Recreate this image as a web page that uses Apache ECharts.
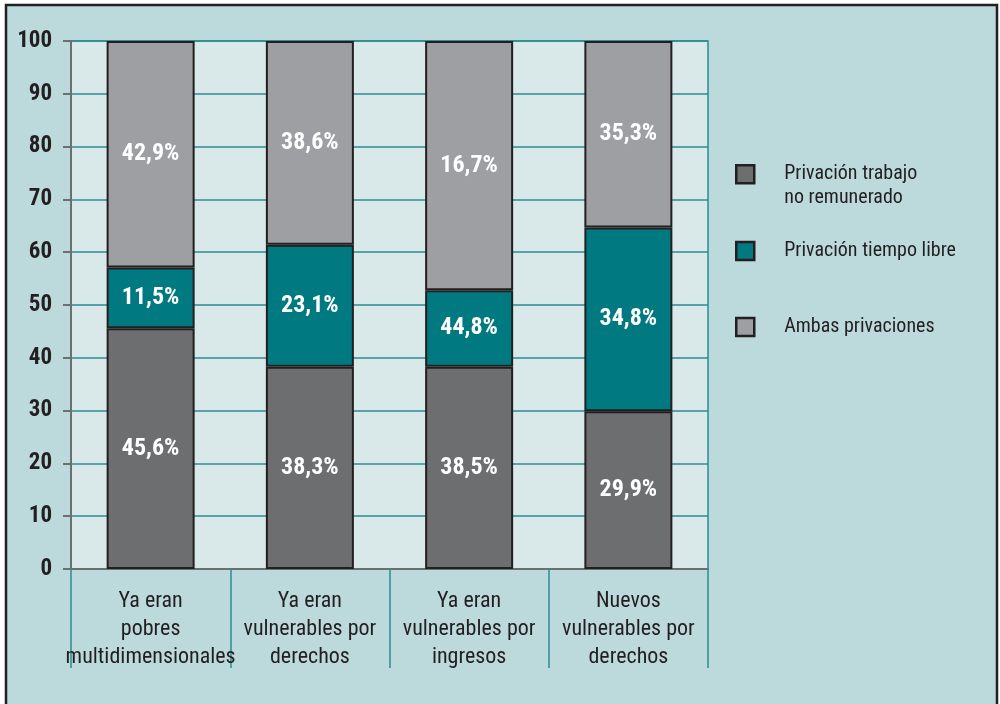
<!DOCTYPE html>
<html>
<head>
<meta charset="utf-8">
<script src="https://cdn.jsdelivr.net/npm/echarts@6/dist/echarts.min.js"></script>
<style>
  html, body { margin: 0; padding: 0; background: #fff; }
  #main { width: 1000px; height: 704px; }
</style>
</head>
<body>
<div id="main"></div>
<script>
// categorias del eje x
var categorias = [
  "Ya eran\npobres\nmultidimensionales",
  "Ya eran\nvulnerables por\nderechos",
  "Ya eran\nvulnerables por\ningresos",
  "Nuevos\nvulnerables por\nderechos"
];

var nombres = ["Privación trabajo\nno remunerado", "Privación tiempo libre", "Ambas privaciones"];

// alturas de los segmentos tal como aparecen dibujados
var trabajo = [45.6, 38.3, 38.3, 29.9];
var tiempo = [11.5, 23.1, 14.5, 34.8];
var ambas = [42.9, 38.6, 47.2, 35.3];

// textos impresos en cada segmento
var etqTrabajo = ["45,6%", "38,3%", "38,5%", "29,9%"];
var etqTiempo = ["11,5%", "23,1%", "44,8%", "34,8%"];
var etqAmbas = ["42,9%", "38,6%", "16,7%", "35,3%"];

var ticksY = [0, 10, 20, 30, 40, 50, 60, 70, 80, 90, 100];

var fuente = "'Liberation Sans Narrow', 'Roboto Condensed', 'Arial Narrow', sans-serif";
var colores = ["#6d6e70", "#007a80", "#9d9fa2"];

var chartDom = document.getElementById("main");
var myChart = echarts.init(chartDom);

function serie(nombre, datos, etiquetas, color) {
  return {
    name: nombre,
    type: "bar",
    stack: "total",
    barWidth: 88,
    data: datos,
    itemStyle: {
      color: color,
      borderColor: "#231f20",
      borderWidth: 2
    },
    label: {
      show: true,
      position: "inside",
      color: "#ffffff",
      fontFamily: fuente,
      fontWeight: "bold",
      fontSize: 24,
      formatter: function (p) {
        return etiquetas[p.dataIndex];
      }
    }
  };
}

// cuadrado arriba para que quede alineado con la primera linea del texto
var iconoAlto = "path://M0,0 M0,3L18,3L18,21L0,21Z M0,48";

function leyenda(nombre, top, icono, alto) {
  return {
    left: 735,
    top: top,
    padding: 0,
    orient: "vertical",
    icon: icono,
    itemWidth: 18,
    itemHeight: alto,
    selectedMode: false,
    data: [nombre],
    textStyle: {
      fontFamily: fuente,
      fontSize: 20,
      color: "#231f20",
      lineHeight: 24,
      padding: [0, 0, 0, 25]
    },
    itemStyle: { borderColor: "#231f20", borderWidth: 2.5 }
  };
}

var option = {
  backgroundColor: "#ffffff",
  animation: false,
  graphic: [
    {
      type: "rect",
      z: -10,
      shape: { x: 6, y: 5, width: 991, height: 720 },
      style: { fill: "#bcd9dc", stroke: "#231f20", lineWidth: 2.5 }
    }
  ],
  legend: [
    leyenda(nombres[0], 161, iconoAlto, 48),
    leyenda(nombres[1], 239, "rect", 18),
    leyenda(nombres[2], 315, "rect", 18)
  ],
  grid: {
    left: 71,
    right: 292,
    top: 41,
    bottom: 135,
    show: true,
    backgroundColor: "#d9e9ea",
    borderColor: "#2a8d92",
    borderWidth: 1.5
  },
  xAxis: {
    type: "category",
    data: categorias,
    axisLine: { lineStyle: { color: "#6d6e70", width: 2 } },
    axisTick: {
      show: true,
      interval: 0,
      alignWithLabel: false,
      length: 99,
      lineStyle: { color: "#2a8d92", width: 1.5 }
    },
    axisLabel: {
      interval: 0,
      margin: 18,
      fontFamily: fuente,
      fontSize: 22,
      lineHeight: 28,
      color: "#231f20"
    }
  },
  yAxis: {
    type: "value",
    min: 0,
    max: 100,
    interval: 10,
    axisLine: { show: true, lineStyle: { color: "#6d6e70", width: 2 } },
    axisTick: { show: true, length: 8, lineStyle: { color: "#6d6e70", width: 2 } },
    splitLine: { show: true, lineStyle: { color: "#2a8d92", width: 1.5 } },
    axisLabel: {
      margin: 19,
      fontFamily: fuente,
      fontWeight: "bold",
      fontSize: 23,
      color: "#231f20",
      formatter: function (v) {
        return ticksY.indexOf(v) >= 0 ? String(v) : "";
      }
    }
  },
  series: [
    serie(nombres[0], trabajo, etqTrabajo, colores[0]),
    serie(nombres[1], tiempo, etqTiempo, colores[1]),
    serie(nombres[2], ambas, etqAmbas, colores[2])
  ]
};

option && myChart.setOption(option);
</script>
</body>
</html>
